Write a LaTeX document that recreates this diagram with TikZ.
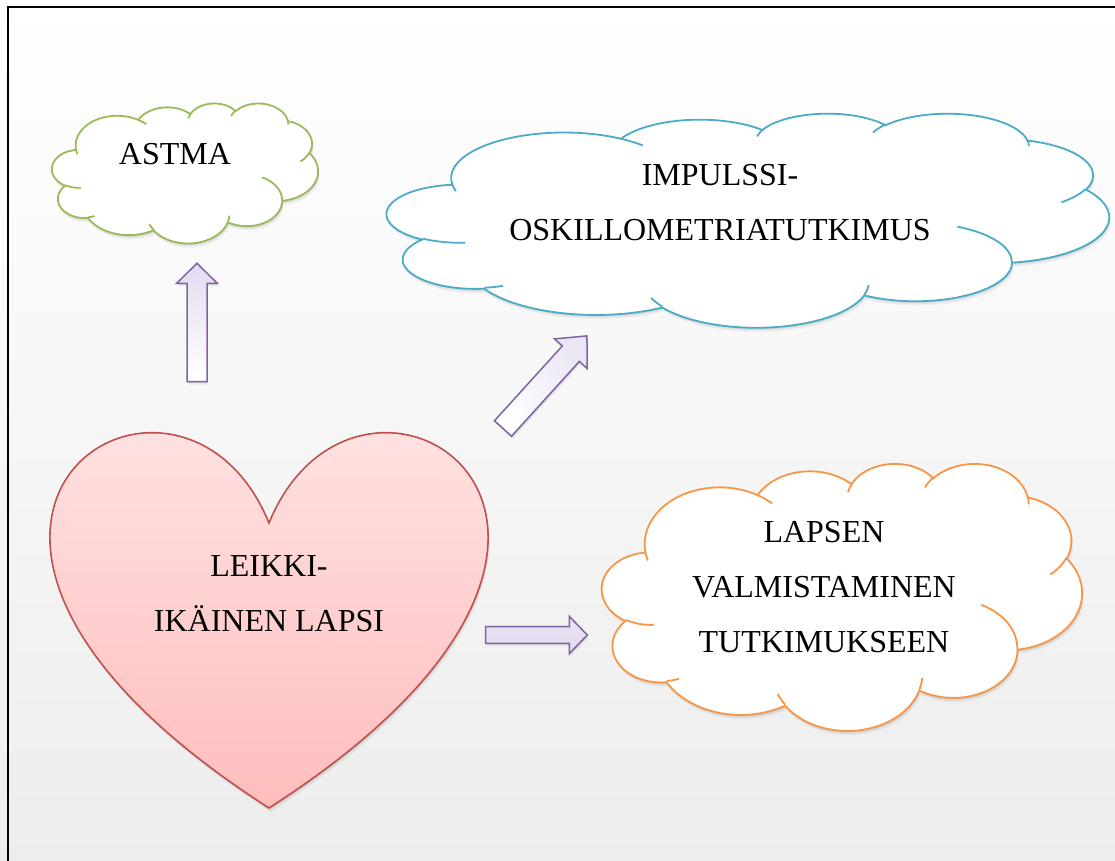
\documentclass[tikz,border=0pt]{standalone}
\usepackage{fontspec}
\setmainfont{Liberation Serif}

\definecolor{astmagreen}{HTML}{9BBB59}
\definecolor{ioblue}{HTML}{4BACC6}
\definecolor{prepareorange}{HTML}{F79646}
\definecolor{heartred}{HTML}{C0504D}
\definecolor{heartpink}{HTML}{FFBDBD}
\definecolor{heartlight}{HTML}{FFEDED}
\definecolor{arrowpurple}{HTML}{8064A2}
\definecolor{lavender}{HTML}{E3DBF0}

\tikzset{
  label text/.style={font=\fontsize{16}{27.5}\selectfont, align=center, inner sep=0pt},
  cloud line/.style={line width=0.9pt, fill=white},
  arrow line/.style={draw=arrowpurple, line width=0.75pt, line join=miter},
}

% outline of the cloud in a 432 x 432 box (y downwards)
\newcommand\cloudouter{(39,143.7) \foreach \rx/\ry/\sa/\da in {%
  67.53/91.90/-190.4875/123.7805, 53.33/72.67/-144.1024/89.9452,
  43.65/59.45/-145.8079/99.7230, 48.57/65.95/-130.9861/117.2417,
  53.33/72.73/-78.7089/109.0269, 67.75/92.20/-46.2673/130.2690,
  57.85/78.67/0.6250/114.0333, 67.52/92.15/22.4516/115.1726,
  77.20/105.43/66.2426/75.7110, 43.60/59.18/-274.9421/146.7356,
  43.45/59.45/-246.8285/152.5189}
  {arc[x radius=\rx, y radius=\ry,
       start angle={atan2(\rx*sin(\sa),\ry*cos(\sa))},
       delta angle={mod(atan2(\rx*sin(\sa+\da),\ry*cos(\sa+\da))-atan2(\rx*sin(\sa),\ry*cos(\sa))+720,360)}]}
  -- cycle}
% the small inner strokes
\newcommand\cloudinner{\foreach \px/\py/\rx/\ry/\sa/\da in {%
  46.93/261.77/43.45/59.45/86.7420/26.4295, 69.28/348.99/43.60/59.18/73.6105/11.4475,
  164.78/390.90/67.52/92.15/137.6242/14.0811, 288.27/347.51/67.52/92.15/6.4533/15.9984,
  341.29/229.54/57.85/78.67/-70.2924/70.9174, 417.98/153.54/53.33/72.73/30.3180/27.7515,
  383.24/54.26/48.57/65.95/-13.7443/14.8589, 290.78/39.52/48.57/65.95/-149.1815/18.1954,
  221.41/47.20/43.65/59.45/-163.4943/17.6864, 140.00/51.92/67.53/91.90/-66.7070/12.3194,
  41.27/157.89/67.53/91.90/157.6544/11.8582}
  {(\px,\py) arc[x radius=\rx, y radius=\ry,
       start angle={atan2(\rx*sin(\sa),\ry*cos(\sa))},
       delta angle={mod(atan2(\rx*sin(\sa+\da),\ry*cos(\sa+\da))-atan2(\rx*sin(\sa),\ry*cos(\sa))+720,360)}]}}

% #1 colour, #2 left, #3 top, #4 width, #5 height
\newcommand\cloudshape[5]{%
  \foreach \dd/\op in {1.5/0.08,3/0.05,4.5/0.03}{
    \begin{scope}[shift={(#2+0.4*\dd,#3+\dd)}, xscale=#4/432, yscale=#5/432]
      \fill[black, opacity=\op] \cloudouter;
    \end{scope}}
  \begin{scope}[shift={(#2,#3)}, xscale=#4/432, yscale=#5/432]
    \filldraw[cloud line, draw=#1] \cloudouter;
    \draw[cloud line, draw=#1, fill=none] \cloudinner;
  \end{scope}}

% #1 fill, #2 tail, #3 angle, #4 length, #5 shaft, #6 head width, #7 head length
\newcommand\blockarrow[7][]{%
  \def\arrowoutline{(0,-#5/2) -- ({#4-#7},-#5/2) -- ({#4-#7},-#6/2) -- (#4,0)
    -- ({#4-#7},#6/2) -- ({#4-#7},#5/2) -- (0,#5/2) -- cycle}
  \foreach \dd/\op in {1.5/0.08,3/0.05}
    \fill[black, opacity=\op, shift={(#2)}, shift={(0.4*\dd,\dd)}, rotate=#3] \arrowoutline;
  \draw[arrow line, #1, shift={(#2)}, rotate=#3] \arrowoutline;}

\newcommand\heartpath{(269,523) .. controls (359.6,301.3) and (713.1,523) .. (269,808)
  .. controls (-175.1,523) and (178.4,301.3) .. (269,523) -- cycle}

\begin{document}
\begin{tikzpicture}[x=0.5pt, y=-0.5pt]
  \useasboundingbox (0,0) rectangle (1115,861);
  \shade[top color=white, bottom color=black!7] (0,0) rectangle (1115,861);
  \draw[line width=1pt] (7.5,861) -- (7.5,7.5) -- (1115,7.5);

  % clouds
  \cloudshape{astmagreen}{52}{103}{266}{140}
  \cloudshape{ioblue}{387}{113}{722}{214}
  \cloudshape{prepareorange}{602}{463}{480}{267}

  % heart
  \foreach \dd/\op in {1.5/0.08,3/0.05,4.5/0.03}
    \fill[black, opacity=\op, shift={(0.4*\dd,\dd)}] \heartpath;
  \draw[heartred, line width=0.8pt, top color=heartlight, bottom color=heartpink] \heartpath;

  % texts
  \node[label text] (astma) at (175,154.5) {ASTMA};
  \node[label text] (impulssi) at (720,202.5) {IMPULSSI-\\OSKILLOMETRIATUTKIMUS};
  \node[label text] (valmistaminen) at (824,587) {LAPSEN\\VALMISTAMINEN\\TUTKIMUKSEEN};
  \node[label text] (lapsi) at (269,594) {LEIKKI-\\IKÄINEN LAPSI};

  % block arrows
  \coordinate (astma base) at (197,381.7);
  \coordinate (impulssi base) at (503,428.5);
  \coordinate (valmistaminen base) at (485.7,635);
  \blockarrow[top color=lavender, bottom color=white]{astma base}{90}{118.4}{20}{40.6}{20}
  \blockarrow[top color=lavender!70, bottom color=white, shading angle=-45]{impulssi base}{47.8}{125}{23}{44}{24}
  \blockarrow[top color=lavender!80, bottom color=lavender]{valmistaminen base}{0}{101.6}{16.7}{37.3}{18}
\end{tikzpicture}
\end{document}
